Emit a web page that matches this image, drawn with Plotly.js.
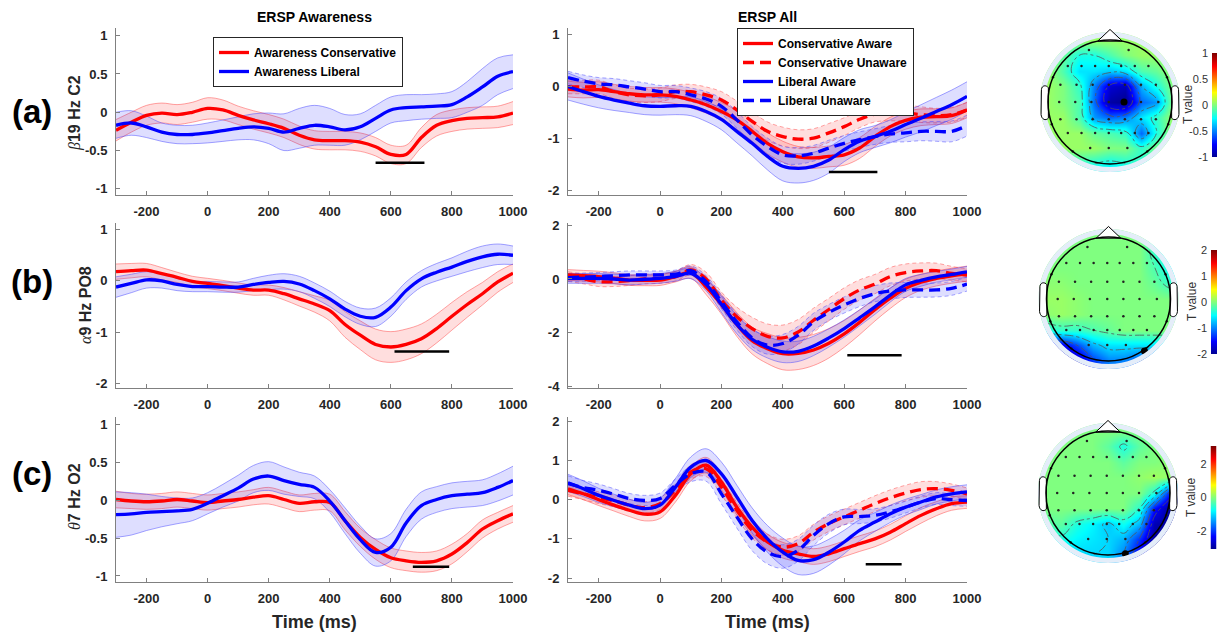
<!DOCTYPE html>
<html><head><meta charset="utf-8">
<script src="https://cdn.plot.ly/plotly-3.0.1.min.js"></script>
<style>html,body{margin:0;padding:0;background:#fff}#chart{width:1219px;height:633px}</style>
</head><body><div id="chart"></div>
<script>
// ---------------- DATA ----------------
const timeMs = [-300,-250,-200,-150,-100,-50,0,50,100,150,200,250,300,350,400,450,500,550,600,650,700,750,800,850,900,950,1000];
const xTickVals = [-200,0,200,400,600,800,1000];
const xTickText = ['-200','0','200','400','600','800','1000'];

// (a) beta 19 Hz C2 - awareness
const aAwConsMean = [-0.235,-0.13,-0.04,-0.01,-0.03,0.0,0.05,0.03,-0.04,-0.1,-0.15,-0.21,-0.3,-0.36,-0.37,-0.37,-0.39,-0.45,-0.55,-0.55,-0.33,-0.17,-0.11,-0.08,-0.07,-0.06,-0.01];
const aAwConsErr  = [0.14,0.13,0.13,0.13,0.13,0.13,0.14,0.13,0.12,0.12,0.12,0.12,0.12,0.12,0.12,0.12,0.12,0.12,0.12,0.12,0.13,0.14,0.14,0.14,0.14,0.14,0.15];
const aAwLibMean  = [-0.17,-0.14,-0.19,-0.26,-0.29,-0.29,-0.27,-0.24,-0.21,-0.19,-0.21,-0.26,-0.21,-0.17,-0.19,-0.23,-0.19,-0.08,0.03,0.06,0.07,0.08,0.1,0.2,0.33,0.47,0.53];
const aAwLibErr   = [0.17,0.16,0.14,0.12,0.12,0.12,0.13,0.14,0.15,0.17,0.2,0.24,0.26,0.26,0.24,0.2,0.17,0.17,0.17,0.17,0.16,0.16,0.17,0.2,0.24,0.24,0.22];
// (a) all
const aCAMean = [-0.05,-0.07,-0.06,-0.1,-0.14,-0.16,-0.16,-0.19,-0.26,-0.35,-0.48,-0.64,-0.86,-1.09,-1.25,-1.35,-1.37,-1.34,-1.31,-1.18,-0.96,-0.77,-0.65,-0.59,-0.58,-0.56,-0.45];
const aCAErr  = [0.15,0.15,0.15,0.14,0.14,0.14,0.14,0.14,0.15,0.16,0.17,0.18,0.19,0.2,0.2,0.2,0.2,0.2,0.2,0.2,0.19,0.18,0.17,0.16,0.15,0.15,0.15];
const aCUMean = [-0.01,-0.01,-0.01,-0.1,-0.16,-0.18,-0.16,-0.1,-0.1,-0.16,-0.26,-0.45,-0.67,-0.86,-0.96,-1.01,-0.99,-0.89,-0.77,-0.63,-0.53,-0.51,-0.51,-0.54,-0.56,-0.54,-0.45];
const aCUErr  = [0.13,0.13,0.13,0.13,0.13,0.13,0.13,0.13,0.14,0.15,0.16,0.17,0.18,0.18,0.18,0.18,0.18,0.18,0.17,0.16,0.15,0.15,0.15,0.15,0.14,0.14,0.14];
const aLAMean = [0.0,-0.1,-0.19,-0.26,-0.32,-0.37,-0.38,-0.37,-0.38,-0.48,-0.63,-0.86,-1.09,-1.34,-1.53,-1.57,-1.53,-1.41,-1.21,-1.05,-0.96,-0.86,-0.73,-0.61,-0.48,-0.35,-0.19];
const aLAErr  = [0.26,0.24,0.22,0.2,0.18,0.17,0.17,0.17,0.18,0.19,0.2,0.22,0.24,0.26,0.28,0.28,0.27,0.25,0.23,0.22,0.21,0.22,0.24,0.26,0.27,0.28,0.28];
const aLUMean = [0.17,0.1,0.05,0.03,-0.01,-0.05,-0.1,-0.1,-0.16,-0.24,-0.38,-0.64,-0.93,-1.15,-1.31,-1.33,-1.28,-1.18,-1.09,-1.02,-0.96,-0.91,-0.89,-0.86,-0.86,-0.86,-0.75];
const aLUErr  = [0.12,0.12,0.12,0.12,0.12,0.12,0.12,0.12,0.13,0.14,0.15,0.16,0.16,0.16,0.16,0.16,0.15,0.15,0.15,0.15,0.15,0.16,0.17,0.18,0.19,0.2,0.2];

// (b) alpha 9 Hz PO8 - awareness
const bAwConsMean = [0.18,0.2,0.21,0.14,0.07,-0.01,-0.05,-0.09,-0.14,-0.18,-0.18,-0.25,-0.35,-0.45,-0.58,-0.85,-1.06,-1.24,-1.29,-1.24,-1.13,-0.93,-0.69,-0.46,-0.25,-0.02,0.15];
const bAwConsErr  = [0.15,0.14,0.13,0.12,0.1,0.1,0.1,0.1,0.1,0.1,0.1,0.12,0.14,0.16,0.2,0.25,0.28,0.3,0.3,0.3,0.29,0.28,0.27,0.25,0.22,0.2,0.18];
const bAwLibMean  = [-0.12,-0.05,0.02,0.0,-0.07,-0.11,-0.11,-0.12,-0.12,-0.07,-0.03,-0.01,-0.06,-0.19,-0.35,-0.55,-0.69,-0.71,-0.51,-0.19,0.04,0.17,0.27,0.38,0.47,0.52,0.5];
const bAwLibErr   = [0.2,0.18,0.16,0.14,0.12,0.1,0.1,0.1,0.1,0.12,0.14,0.15,0.15,0.15,0.15,0.15,0.16,0.18,0.18,0.17,0.16,0.17,0.18,0.2,0.21,0.2,0.18];
// (b) all
const bCAMean = [0.15,0.12,0.09,0.03,-0.04,-0.05,-0.04,0.09,0.24,-0.3,-0.95,-1.7,-2.3,-2.6,-2.79,-2.78,-2.65,-2.4,-2.05,-1.62,-1.15,-0.72,-0.35,-0.12,0.02,0.12,0.2];
const bCAErr  = [0.2,0.2,0.2,0.2,0.2,0.2,0.2,0.2,0.22,0.28,0.36,0.44,0.5,0.56,0.6,0.6,0.58,0.55,0.5,0.46,0.42,0.38,0.34,0.3,0.28,0.28,0.28];
const bCUMean = [0.09,0.0,-0.1,-0.1,-0.06,0.0,0.02,0.1,0.34,0.0,-0.79,-1.41,-1.85,-2.14,-2.2,-1.98,-1.54,-1.14,-0.73,-0.41,-0.19,0.09,0.24,0.3,0.31,0.21,0.14];
const bCUErr  = [0.18,0.18,0.18,0.18,0.18,0.18,0.18,0.18,0.2,0.25,0.3,0.36,0.42,0.46,0.48,0.47,0.45,0.42,0.4,0.38,0.36,0.34,0.32,0.3,0.28,0.26,0.24];
const bLAMean = [0.02,0.02,0.02,0.0,-0.04,-0.01,0.02,0.1,0.21,-0.2,-0.95,-1.7,-2.25,-2.55,-2.72,-2.7,-2.5,-2.2,-1.85,-1.45,-1.04,-0.6,-0.22,-0.05,0.08,0.17,0.27];
const bLAErr  = [0.18,0.18,0.18,0.18,0.18,0.18,0.18,0.18,0.2,0.24,0.3,0.34,0.38,0.4,0.4,0.38,0.36,0.34,0.32,0.3,0.28,0.26,0.24,0.22,0.2,0.2,0.2];
const bLUMean = [0.05,0.07,0.09,0.12,0.15,0.15,0.15,0.18,0.31,-0.1,-0.85,-1.6,-2.2,-2.47,-2.41,-2.1,-1.6,-1.25,-0.97,-0.73,-0.55,-0.45,-0.41,-0.41,-0.41,-0.35,-0.19];
const bLUErr  = [0.15,0.15,0.15,0.15,0.15,0.15,0.15,0.15,0.18,0.22,0.26,0.3,0.32,0.34,0.34,0.33,0.32,0.3,0.3,0.3,0.3,0.3,0.28,0.27,0.26,0.26,0.26];

// (c) theta 7 Hz O2 - awareness
const cAwConsMean = [0.01,-0.01,-0.02,-0.01,0.01,-0.01,-0.03,-0.01,0.01,0.04,0.06,0.01,-0.04,-0.02,-0.03,-0.27,-0.49,-0.65,-0.76,-0.8,-0.82,-0.8,-0.71,-0.56,-0.38,-0.27,-0.18];
const cAwConsErr  = [0.11,0.1,0.1,0.1,0.1,0.1,0.1,0.1,0.1,0.1,0.11,0.11,0.11,0.11,0.11,0.12,0.12,0.13,0.13,0.13,0.13,0.13,0.13,0.12,0.12,0.11,0.11];
const cAwLibMean  = [-0.19,-0.18,-0.16,-0.15,-0.14,-0.12,-0.04,0.06,0.16,0.28,0.32,0.26,0.21,0.17,-0.01,-0.27,-0.52,-0.69,-0.62,-0.3,-0.07,0.01,0.06,0.08,0.1,0.17,0.26];
const cAwLibErr   = [0.3,0.28,0.24,0.2,0.17,0.15,0.14,0.15,0.17,0.18,0.19,0.18,0.16,0.15,0.15,0.17,0.18,0.18,0.18,0.18,0.18,0.17,0.17,0.17,0.17,0.18,0.19];
// (c) all
const cCAMean = [0.28,0.15,0.0,-0.14,-0.27,-0.37,-0.31,0.11,0.66,0.88,0.45,-0.19,-0.7,-1.08,-1.29,-1.38,-1.45,-1.38,-1.25,-1.12,-1.0,-0.83,-0.61,-0.4,-0.23,-0.1,-0.06];
const cCAErr  = [0.15,0.15,0.15,0.15,0.16,0.17,0.17,0.17,0.18,0.2,0.2,0.2,0.2,0.2,0.2,0.2,0.2,0.2,0.2,0.2,0.2,0.2,0.2,0.2,0.18,0.17,0.16];
const cCUMean = [0.24,0.15,0.05,-0.03,-0.14,-0.2,-0.1,0.24,0.71,0.79,0.32,-0.27,-0.78,-1.08,-1.21,-1.12,-0.83,-0.61,-0.44,-0.27,-0.1,0.05,0.17,0.26,0.28,0.24,0.15];
const cCUErr  = [0.15,0.15,0.15,0.15,0.15,0.15,0.15,0.16,0.18,0.2,0.2,0.2,0.2,0.2,0.2,0.2,0.2,0.2,0.2,0.2,0.2,0.2,0.2,0.2,0.18,0.16,0.15];
const cLAMean = [0.43,0.28,0.11,-0.02,-0.14,-0.23,-0.14,0.32,0.83,1.0,0.66,0.07,-0.53,-1.0,-1.34,-1.55,-1.53,-1.34,-1.08,-0.78,-0.57,-0.36,-0.19,-0.06,0.07,0.15,0.2];
const cLAErr  = [0.22,0.2,0.18,0.16,0.15,0.16,0.18,0.22,0.26,0.3,0.3,0.3,0.32,0.34,0.36,0.36,0.35,0.33,0.3,0.27,0.24,0.22,0.2,0.19,0.18,0.18,0.18];
const cLUMean = [0.41,0.31,0.24,0.14,0.03,-0.02,0.03,0.37,0.66,0.71,0.15,-0.44,-1.0,-1.34,-1.45,-1.29,-0.91,-0.61,-0.44,-0.43,-0.4,-0.31,-0.19,-0.06,0.03,0.0,-0.02];
const cLUErr  = [0.2,0.18,0.16,0.14,0.13,0.13,0.14,0.16,0.2,0.24,0.26,0.28,0.3,0.3,0.3,0.28,0.26,0.24,0.2,0.18,0.17,0.16,0.15,0.15,0.15,0.15,0.15];

// significance bars [start ms, end ms] and level
const sigAwA = [550,710], sigAwALevel = -0.66;
const sigAllA = [550,708], sigAllALevel = -1.64;
const sigAwB = [612,791], sigAwBLevel = -1.38;
const sigAllB = [610,787], sigAllBLevel = -2.85;
const sigAwC = [672,791], sigAwCLevel = -0.88;
const sigAllC = [670,787], sigAllCLevel = -1.65;

// y tick values / labels
const yTicksAwA = [-1,-0.5,0,0.5,1], yTextAwA = ['-1','-0.5','0','0.5','1'];
const yTicksAllA = [-2,-1,0,1], yTextAllA = ['-2','-1','0','1'];
const yTicksAwB = [-2,-1,0,1], yTextAwB = ['-2','-1','0','1'];
const yTicksAllB = [-4,-2,0,2], yTextAllB = ['-4','-2','0','2'];
const yTicksAwC = [-1,-0.5,0,0.5,1], yTextAwC = ['-1','-0.5','0','0.5','1'];
const yTicksAllC = [-2,-1,0,1,2], yTextAllC = ['-2','-1','0','1','2'];

// topographic maps (T values on a coarse scalp grid; rows from front (top) to back)
const topoGridX = [-0.5,-0.375,-0.25,-0.125,0,0.125,0.25,0.375,0.5];
const topoGridY = [0.5,0.375,0.25,0.125,0,-0.125,-0.25,-0.375,-0.5];
const topoA = [
  [0.05,0.05,0.05,0.05,0.05,0.05,0.05,0.05,0.05],
  [0.05,-0.05,-0.2,-0.2,-0.1,0,0.05,0.05,0.05],
  [0.05,-0.1,-0.3,-0.3,-0.35,-0.3,-0.1,-0.05,0.05],
  [0.05,0,-0.15,-0.5,-0.85,-0.9,-0.4,-0.2,0],
  [0.05,0,-0.1,-0.55,-0.95,-1.0,-0.55,-0.45,0],
  [0.05,0.05,-0.1,-0.45,-0.55,-0.5,-0.3,-0.15,0.05],
  [0.05,0.05,0.05,-0.05,-0.1,-0.15,-0.55,-0.2,0.05],
  [-0.05,0.05,0.05,0.05,0,0,-0.15,0,0],
  [-0.2,-0.2,-0.15,-0.2,-0.25,-0.2,-0.15,-0.15,-0.15]
];
const topoB = [
  [0,0,0,0,0,0,0,-0.3,-0.4],
  [0,0,0,0,0,0,0,-0.3,-0.5],
  [0,0,0,0,0,0,0,-0.2,-0.5],
  [0.05,0.05,0,0,0,0,0,-0.1,-0.3],
  [0.1,0.1,0.05,0,0,0,0,0,0],
  [0.05,0.1,0.05,0,0,0,0,0,0],
  [-0.4,-0.3,-0.3,-0.2,-0.1,0,0,0,0],
  [-1.7,-1.6,-1.2,-0.8,-0.6,-0.6,-0.6,-0.6,-0.6],
  [-2.0,-2.0,-1.8,-1.3,-1.0,-1.0,-1.2,-1.2,-1.0]
];
const topoC = [
  [0,0,0,0,0,0,0,0,0],
  [0,0,0,0,-0.2,-0.6,-0.2,0,0],
  [0,0,0,0,0,-0.2,0,0,0.1],
  [0,0,0,0,0,0,0.1,0.2,0.1],
  [0,0,0,0,0,0,0,-0.6,-2.2],
  [0,0,0,0,0,0,-0.5,-2.2,-3.0],
  [-0.3,-0.2,-0.6,-0.8,-1.1,-0.7,-1.2,-2.8,-3.0],
  [-0.7,-0.6,-0.8,-0.9,-1.0,-1.2,-2.0,-3.0,-3.0],
  [-1.0,-1.0,-1.0,-1.0,-1.0,-1.5,-2.4,-3.0,-3.0]
];
const cbRangeA = [-1,1], cbTicksA = [-1,-0.5,0,0.5,1], cbTextA = ['-1','-0.5','0','0.5','1'];
const cbRangeB = [-2,2], cbTicksB = [-2,-1,0,1,2], cbTextB = ['-2','-1','0','1','2'];
const cbRangeC = [-3.05,3.05], cbTicksC = [-2,0,2], cbTextC = ['-2','0','2'];
// electrode positions (head radius 0.5)
const elecX = [-0.17,0.15,
  -0.34,-0.23,-0.12,-0.01,0.09,0.2,0.31,
  -0.4,-0.27,-0.14,-0.01,0.12,0.25,0.37,
  -0.41,-0.28,-0.15,-0.01,0.12,0.25,0.39,
  -0.4,-0.27,-0.14,-0.01,0.12,0.25,0.37,
  -0.34,-0.23,-0.12,-0.01,0.09,0.2,0.31,
  -0.16,-0.01,0.14,
  -0.46,0.46,-0.47,0.47,-0.3,0.3];
const elecY = [0.42,0.42,
  0.29,0.29,0.29,0.29,0.29,0.29,0.29,
  0.14,0.14,0.14,0.14,0.14,0.14,0.14,
  0,0,0,0,0,0,0,
  -0.14,-0.14,-0.14,-0.14,-0.14,-0.14,-0.14,
  -0.25,-0.25,-0.25,-0.25,-0.25,-0.25,-0.25,
  -0.37,-0.37,-0.37,
  0.2,0.2,-0.18,-0.18,-0.4,-0.4];
const markA = [0.113, 0.0];   // C2
const markB = [0.29, -0.42]; // PO8
const markC = [0.14, -0.49]; // O2

// ---------------- STYLE / BUILD ----------------
const W = 1219, H = 633;
const FONT = 'Liberation Sans, Arial, Helvetica, sans-serif';
const RED = '#ff0000', BLUE = '#0000ff';
const DASH = '11px,6px';
const jet = [[0,'rgb(0,0,143)'],[0.125,'rgb(0,0,255)'],[0.375,'rgb(0,255,255)'],[0.625,'rgb(255,255,0)'],[0.875,'rgb(255,0,0)'],[1,'rgb(128,0,0)']];
const dx = (a,b) => [a/W, b/W];
const dy = (top,bottom) => [1-bottom/H, 1-top/H];
const ax = n => (n===1 ? '' : String(n));

const traces = [];
function band(mean, err, color, dashed, n){
  const edge = color===RED ? 'rgba(255,70,70,0.7)' : 'rgba(70,70,255,0.7)';
  const fill = color===RED ? 'rgba(255,0,0,0.13)' : 'rgba(0,0,255,0.13)';
  const base = {x: timeMs, mode:'lines', xaxis:'x'+ax(n), yaxis:'y'+ax(n), showlegend:false, hoverinfo:'skip',
    line:{color:edge, width:0.7, dash: dashed ? '4px,3px' : 'solid', shape:'spline', smoothing:1}};
  traces.push(Object.assign({}, base, {y: mean.map((v,i)=>v-err[i])}));
  traces.push(Object.assign({}, base, {y: mean.map((v,i)=>v+err[i]), fill:'tonexty', fillcolor:fill}));
}
function meanLine(mean, color, dashed, n, name, legendId){
  const t = {x: timeMs, y: mean, mode:'lines', xaxis:'x'+ax(n), yaxis:'y'+ax(n), hoverinfo:'skip',
    line:{color, width:3.3, dash: dashed ? DASH : 'solid', shape:'spline', smoothing:1}};
  if(name){ t.name = name; t.legend = legendId; t.showlegend = true; } else { t.showlegend = false; }
  traces.push(t);
}
function sig(range, level, n){
  traces.push({x: range, y: [level, level], mode:'lines', xaxis:'x'+ax(n), yaxis:'y'+ax(n),
    line:{color:'#000', width:2.5}, showlegend:false, hoverinfo:'skip'});
}

// awareness panels (1,3,5)
[[aAwConsMean,aAwConsErr,aAwLibMean,aAwLibErr,1,sigAwA,sigAwALevel,true],
 [bAwConsMean,bAwConsErr,bAwLibMean,bAwLibErr,3,sigAwB,sigAwBLevel,false],
 [cAwConsMean,cAwConsErr,cAwLibMean,cAwLibErr,5,sigAwC,sigAwCLevel,false]].forEach(p=>{
  band(p[0],p[1],RED,false,p[4]);
  band(p[2],p[3],BLUE,false,p[4]);
  meanLine(p[0],RED,false,p[4], p[7] ? 'Awareness Conservative' : null, 'legend');
  meanLine(p[2],BLUE,false,p[4], p[7] ? 'Awareness Liberal' : null, 'legend');
  sig(p[5],p[6],p[4]);
});
// all panels (2,4,6)
[[aCAMean,aCAErr,aCUMean,aCUErr,aLAMean,aLAErr,aLUMean,aLUErr,2,sigAllA,sigAllALevel,true],
 [bCAMean,bCAErr,bCUMean,bCUErr,bLAMean,bLAErr,bLUMean,bLUErr,4,sigAllB,sigAllBLevel,false],
 [cCAMean,cCAErr,cCUMean,cCUErr,cLAMean,cLAErr,cLUMean,cLUErr,6,sigAllC,sigAllCLevel,false]].forEach(p=>{
  const n = p[8], L = p[11];
  band(p[0],p[1],RED,false,n);
  band(p[2],p[3],RED,true,n);
  band(p[4],p[5],BLUE,false,n);
  band(p[6],p[7],BLUE,true,n);
  meanLine(p[0],RED,false,n, L ? 'Conservative Aware' : null, 'legend2');
  meanLine(p[2],RED,true,n, L ? 'Conservative Unaware' : null, 'legend2');
  meanLine(p[4],BLUE,false,n, L ? 'Liberal Aware' : null, 'legend2');
  meanLine(p[6],BLUE,true,n, L ? 'Liberal Unaware' : null, 'legend2');
  sig(p[9],p[10],n);
});

// topo maps (7,8,9) and colorbars (10,11,12)
const topoContours = [{start:-0.8,end:-0.2,size:0.2},{start:-1.7,end:-0.2,size:0.5},{start:-2.5,end:-0.5,size:0.5}];
[[topoA,cbRangeA,markA,7,10],[topoB,cbRangeB,markB,8,11],[topoC,cbRangeC,markC,9,12]].forEach((p,i)=>{
  const n = p[3];
  traces.push({type:'heatmap', x: topoGridX, y: topoGridY, z: p[0], zmin:p[1][0], zmax:p[1][1], colorscale: jet,
    zsmooth:'best', showscale:false, showlegend:false, xaxis:'x'+n, yaxis:'y'+n, hoverinfo:'skip'});
  traces.push({type:'contour', x: topoGridX, y: topoGridY, z: p[0], showscale:false, showlegend:false, xaxis:'x'+n, yaxis:'y'+n,
    contours: Object.assign({coloring:'none'}, topoContours[i]), line:{color:'#555', width:0.8, dash:'dashdot', smoothing:1.3}, hoverinfo:'skip'});
  traces.push({type:'scatter', mode:'markers', x: elecX, y: elecY, xaxis:'x'+n, yaxis:'y'+n,
    marker:{size:2.5, color:'#222'}, showlegend:false, hoverinfo:'skip'});
  traces.push({type:'scatter', mode:'markers', x:[p[2][0]], y:[p[2][1]], xaxis:'x'+n, yaxis:'y'+n,
    marker:{size:7, color:'#000'}, showlegend:false, hoverinfo:'skip'});
  const c = p[4];
  traces.push({type:'heatmap', x:[0,1], y:[p[1][0], p[1][1]], z:[[p[1][0],p[1][0]],[p[1][1],p[1][1]]],
    zmin:p[1][0], zmax:p[1][1], colorscale: jet, zsmooth:'best', showscale:false, showlegend:false, xaxis:'x'+c, yaxis:'y'+c, hoverinfo:'skip'});
});

// ---------------- LAYOUT ----------------
const tickFont = {family:FONT, size:13, color:'#262626', weight:'bold'};
function xAxis(dom, anchor){
  return {domain: dom, anchor, range:[-300,1000], tickmode:'array', tickvals:xTickVals, ticktext:xTickText,
    ticks:'inside', ticklen:4, tickcolor:'#808080', showline:true, linecolor:'#808080', linewidth:1,
    zeroline:false, showgrid:false, tickfont:tickFont, ticklabelstandoff:4, fixedrange:true};
}
function yAxis(dom, anchor, range, tv, tt){
  return {domain: dom, anchor, range, tickmode:'array', tickvals:tv, ticktext:tt,
    ticks:'inside', ticklen:4, tickcolor:'#808080', showline:true, linecolor:'#808080', linewidth:1,
    zeroline:false, showgrid:false, tickfont:tickFont, ticklabelstandoff:5, fixedrange:true};
}
const LX = dx(116,513), MX = dx(568,967);
const RA = dy(28,195), RB = dy(223,388), RC = dy(417,582);
const legendFont = {family:FONT, size:12, color:'#000', weight:'bold'};
const layout = {
  width: W, height: H, margin:{l:0,r:0,t:0,b:0}, paper_bgcolor:'#fff', plot_bgcolor:'rgba(0,0,0,0)',
  showlegend: true,
  xaxis: xAxis(LX,'y'),  yaxis: yAxis(RA,'x',[-1.08,1.1],yTicksAwA,yTextAwA),
  xaxis2: xAxis(MX,'y2'), yaxis2: yAxis(RA,'x2',[-2.08,1.12],yTicksAllA,yTextAllA),
  xaxis3: xAxis(LX,'y3'), yaxis3: yAxis(RB,'x3',[-2.09,1.13],yTicksAwB,yTextAwB),
  xaxis4: xAxis(MX,'y4'), yaxis4: yAxis(RB,'x4',[-4.07,2.09],yTicksAllB,yTextAllB),
  xaxis5: xAxis(LX,'y5'), yaxis5: yAxis(RC,'x5',[-1.08,1.1],yTicksAwC,yTextAwC),
  xaxis6: xAxis(MX,'y6'), yaxis6: yAxis(RC,'x6',[-2.1,2.11],yTicksAllC,yTextAllC),
  legend: {x:213/W, y:1-37/H, xanchor:'left', yanchor:'top', bgcolor:'#fff', bordercolor:'#262626', borderwidth:1,
    traceorder:'normal', font:legendFont},
  legend2: {x:737/W, y:1-28/H, xanchor:'left', yanchor:'top', bgcolor:'#fff', bordercolor:'#262626', borderwidth:1,
    traceorder:'normal', font:legendFont},
  shapes: [], annotations: []
};
// topo + colorbar axes
const topoCenters = [[1110,102],[1108.5,299],[1108,493]];
const half = 74.4;
const cbBoxes = [[1212,1217.5,53,157],[1211,1217,250,354],[1210.5,1216.5,446,549]];
const cbRanges = [cbRangeA, cbRangeB, cbRangeC];
const cbTicks = [[cbTicksA,cbTextA],[cbTicksB,cbTextB],[cbTicksC,cbTextC]];
function circlePath(r){
  const k = 0.5523*r;
  return `M ${r},0 C ${r},${k} ${k},${r} 0,${r} C ${-k},${r} ${-r},${k} ${-r},0 C ${-r},${-k} ${-k},${-r} 0,${-r} C ${k},${-r} ${r},${-k} ${r},0 Z`;
}
for(let i=0;i<3;i++){
  const n = 7+i, c = 10+i;
  const [cx,cy] = topoCenters[i];
  layout['xaxis'+n] = {domain: dx(cx-half,cx+half), anchor:'y'+n, range:[-0.6,0.6], visible:false, fixedrange:true};
  layout['yaxis'+n] = {domain: dy(cy-half,cy+half), anchor:'x'+n, range:[-0.6,0.6], visible:false, fixedrange:true};
  const b = cbBoxes[i];
  layout['xaxis'+c] = {domain: dx(b[0],b[1]), anchor:'y'+c, range:[0,1], visible:false, fixedrange:true};
  layout['yaxis'+c] = {domain: dy(b[2],b[3]), anchor:'x'+c, range:cbRanges[i], side:'left', tickmode:'array',
    tickvals:cbTicks[i][0], ticktext:cbTicks[i][1], ticks:'', showline:false, showgrid:false, zeroline:false,
    tickfont:{family:FONT, size:11, color:'#333'}, ticklabelstandoff:3, fixedrange:true};
  const base = {xref:'x'+n, yref:'y'+n, layer:'above'};
  layout.shapes.push(Object.assign({}, base, {type:'path', path:'M -0.6,-0.6 L 0.6,-0.6 L 0.6,0.6 L -0.6,0.6 Z ' + circlePath(0.565),
    fillrule:'evenodd', fillcolor:'#ffffff', line:{width:0}}));
  layout.shapes.push(Object.assign({}, base, {type:'path', path: circlePath(0.565) + ' ' + circlePath(0.525),
    fillrule:'evenodd', fillcolor:'#e4edf9', line:{width:0}}));
  layout.shapes.push(Object.assign({}, base, {type:'path',
    path:'M -0.497,0.115 C -0.515,0.14 -0.55,0.135 -0.553,0.1 L -0.556,-0.1 C -0.552,-0.14 -0.52,-0.155 -0.497,-0.13 Z',
    fillcolor:'#ffffff', line:{color:'#000', width:1}}));
  layout.shapes.push(Object.assign({}, base, {type:'path',
    path:'M 0.497,0.115 C 0.515,0.14 0.55,0.135 0.553,0.1 L 0.556,-0.1 C 0.552,-0.14 0.52,-0.155 0.497,-0.13 Z',
    fillcolor:'#ffffff', line:{color:'#000', width:1}}));
  layout.shapes.push(Object.assign({}, base, {type:'path', path:'M -0.1,0.49 L 0,0.585 L 0.1,0.49 Z',
    fillcolor:'#ffffff', line:{color:'#000', width:1}}));
  layout.shapes.push(Object.assign({}, base, {type:'circle', x0:-0.5, y0:-0.5, x1:0.5, y1:0.5, line:{color:'#000', width:1.5}}));
}
function ann(text, px, py, size, extra){
  return Object.assign({text, x:px/W, y:1-py/H, xref:'paper', yref:'paper', showarrow:false,
    xanchor:'center', yanchor:'middle', font:{family:FONT, size, color:'#000'}}, extra||{});
}
const greek = g => `<span style="font-family:Liberation Serif"><i>${g}</i></span>`;
layout.annotations.push(
  ann('<b>ERSP Awareness</b>', 314.5, 17, 14),
  ann('<b>ERSP All</b>', 767, 17, 14),
  ann('<b>(a)</b>', 32, 111, 33),
  ann('<b>(b)</b>', 32, 282, 33),
  ann('<b>(c)</b>', 32, 473, 33),
  ann(greek('β') + '<b>19 Hz C2</b>', 75, 113, 16, {textangle:-90, font:{family:FONT, size:16, color:'#262626'}}),
  ann(greek('α') + '<b>9 Hz PO8</b>', 85, 305, 16, {textangle:-90, font:{family:FONT, size:16, color:'#262626'}}),
  ann(greek('θ') + '<b>7 Hz O2</b>', 74, 497, 16, {textangle:-90, font:{family:FONT, size:16, color:'#262626'}}),
  ann('<b>Time (ms)</b>', 314.5, 622, 18, {font:{family:FONT, size:18, color:'#262626'}}),
  ann('<b>Time (ms)</b>', 767, 622, 18, {font:{family:FONT, size:18, color:'#262626'}}),
  ann('T value', 1188, 105, 12, {textangle:-90, font:{family:FONT, size:12, color:'#333'}}),
  ann('T value', 1192, 302, 12, {textangle:-90, font:{family:FONT, size:12, color:'#333'}}),
  ann('T value', 1191, 498, 12, {textangle:-90, font:{family:FONT, size:12, color:'#333'}})
);

Plotly.newPlot('chart', traces, layout, {displayModeBar:false, staticPlot:true});
</script>
</body></html>
